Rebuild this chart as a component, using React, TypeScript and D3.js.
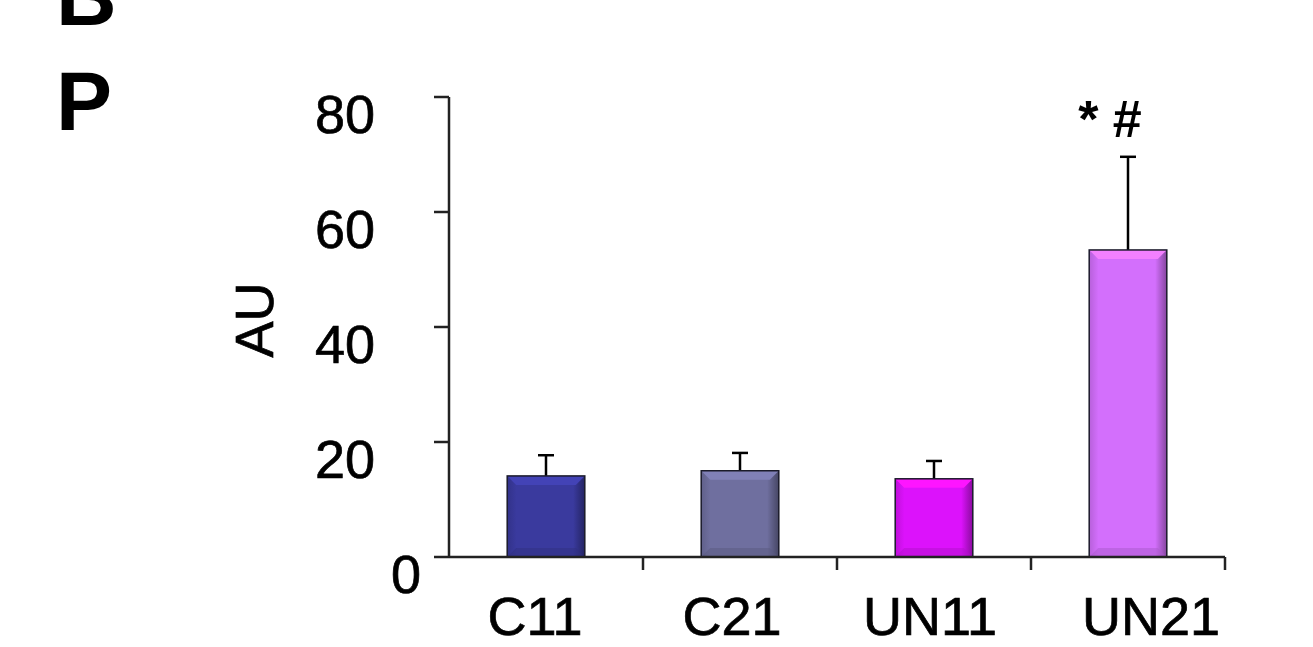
import React from "react";
import * as d3 from "d3";

const categories = ["C11", "C21", "UN11", "UN21"];
const means = [14.1, 15.0, 13.6, 53.4];
const errors = [3.6, 3.1, 3.1, 16.2];
const barColors = ["#3a3a9e", "#6f6f9f", "#dc12fb", "#d36ffc"];
const yTicks = [0, 20, 40, 60, 80];
const annotation = "* #";

// layout nudges for category labels (px), as drawn in the reference
const labelNudge = [-11, -8, -4, 23];

const W = 1313, H = 647;
const left = 449, right = 1225, top = 97, bottom = 557;

export default function App() {
  const x = d3.scaleBand<string>().domain(categories).range([left, right]).paddingInner(0.6).paddingOuter(0.3);
  const y = d3.scaleLinear().domain([0, 80]).range([bottom, top]);
  const bw = x.bandwidth();
  const step = (right - left) / categories.length;
  const font = "'Liberation Sans', Arial, sans-serif";
  const ts = { stroke: "#000", strokeWidth: 0.7 };
  return (
    <div style={{ position: "fixed", left: 0, top: 0 }}>
      <svg width={W} height={H} style={{ display: "block", background: "#fff" }} fontFamily={font}>
        <defs>
          {barColors.map((c, i) => (
            <linearGradient key={i} id={`gx${i}`} x1="0" x2="1" y1="0" y2="0">
              <stop offset="0" stopColor={d3.color(c)!.darker(0.4).toString()} />
              <stop offset="0.12" stopColor={c} />
              <stop offset="0.85" stopColor={c} />
              <stop offset="1" stopColor={d3.color(c)!.darker(1.3).toString()} />
            </linearGradient>
          ))}
        </defs>
        <text x={56} y={25} fontSize={84} fontWeight="bold">B</text>
        <text x={56} y={130} fontSize={84} fontWeight="bold">P</text>
        {/* bars */}
        {categories.map((c, i) => {
          const x0 = x(c)!;
          const y0 = y(means[i]);
          const h = bottom - y0;
          const col = barColors[i];
          const light = d3.color(col)!.brighter(0.4).toString();
          const dark = d3.color(col)!.darker(0.6).toString();
          const b = 9;
          const yt = y(means[i] + errors[i]);
          const cx = x0 + bw / 2;
          return (
            <g key={c}>
              <line x1={cx} x2={cx} y1={y0} y2={yt} stroke="#000" strokeWidth={2.5} />
              <line x1={cx - 8} x2={cx + 8} y1={yt} y2={yt} stroke="#000" strokeWidth={2.5} />
              <rect x={x0} y={y0} width={bw} height={h} fill={`url(#gx${i})`} />
              <polygon points={`${x0},${y0} ${x0 + bw},${y0} ${x0 + bw - b},${y0 + b} ${x0 + b},${y0 + b}`} fill={light} />
              <polygon points={`${x0},${bottom} ${x0 + bw},${bottom} ${x0 + bw - b},${bottom - b} ${x0 + b},${bottom - b}`} fill={dark} opacity={0.5} />
              <rect x={x0} y={y0} width={bw} height={h} fill="none" stroke="#1a1a2a" strokeWidth={1.5} />
              <text x={cx + labelNudge[i]} y={635} fontSize={54} textAnchor="middle" {...ts}>{c}</text>
            </g>
          );
        })}
        {/* annotation */}
        <text x={x("UN21")! + bw / 2 - 18} y={137} fontSize={52} textAnchor="middle" fontWeight="bold">{annotation}</text>
        {/* y axis */}
        <line x1={left} x2={left} y1={top} y2={bottom} stroke="#222" strokeWidth={2.5} />
        {yTicks.map((t) => (
          <g key={t}>
            <line x1={left - 15} x2={left} y1={y(t)} y2={y(t)} stroke="#222" strokeWidth={2.5} />
            <text x={t === 0 ? 421 : 375} y={y(t) + 36} fontSize={54} textAnchor="end" {...ts}>{t}</text>
          </g>
        ))}
        {/* x axis */}
        <line x1={left} x2={right} y1={bottom} y2={bottom} stroke="#222" strokeWidth={2.5} />
        {categories.map((c, i) => (
          <line key={c} x1={left + step * (i + 1)} x2={left + step * (i + 1)} y1={bottom} y2={bottom + 13} stroke="#222" strokeWidth={2.5} />
        ))}
        <text transform={`translate(273,320) rotate(-90)`} fontSize={54} textAnchor="middle" {...ts}>AU</text>
      </svg>
    </div>
  );
}
